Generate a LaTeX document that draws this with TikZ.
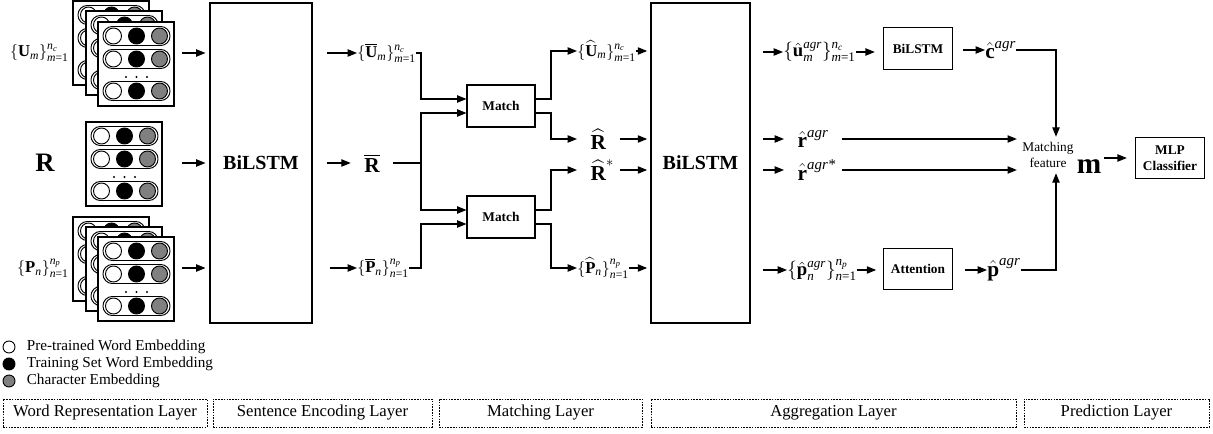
\documentclass[tikz,border=0pt]{standalone}
\usepackage{amsmath,amssymb}
\usepackage{fontspec}
\setmainfont{Liberation Serif}
\usetikzlibrary{arrows.meta,positioning}

\tikzset{
  arr/.style={-{Triangle[length=7pt,width=5.5pt]},line width=0.8pt},
  ln/.style={line width=0.8pt},
  bigbox/.style={draw,line width=0.8pt,font=\bfseries\fontsize{15}{18}\selectfont},
  blk/.style={draw,line width=0.8pt,align=center,font=\bfseries\fontsize{10}{12}\selectfont,minimum width=52pt,minimum height=31pt},
  setlab/.style={inner sep=0pt,font=\fontsize{12.5}{15}\selectfont},
  agrlab/.style={inner sep=0pt,font=\fontsize{14}{16}\selectfont},
  veclab/.style={inner sep=0pt,font=\fontsize{16}{18}\selectfont},
  layerbox/.style={draw,line width=0.6pt,dash pattern=on 1.2pt off 0.9pt,minimum height=21pt,font=\fontsize{12.5}{14}\selectfont},
  legtext/.style={font=\fontsize{11.4}{13}\selectfont},
  dotlg/.style={circle,draw,line width=0.7pt,minimum size=9pt,inner sep=0pt}
}

% {X_i}^{n_c}_{i=1}
\newcommand{\embset}[4]{$\{#1_{\textit{#2}}\}^{\textit{#3}_{\textit{#4}}}_{\textit{#2}\text{=1}}$}
% one row of a word card
\newcommand{\wordrow}[1]{%
  \draw[line width=0.7pt,fill=white,rounded corners=7pt] (5,#1-9.5) rectangle (72,#1+9.5);
  \draw[line width=0.7pt,fill=white] (15.5,#1) circle[radius=6pt];
  \draw[line width=0.7pt,fill=black] (38.5,#1) circle[radius=6pt];
  \draw[line width=0.7pt,fill=gray] (61.5,#1) circle[radius=6pt];}
% a word card with its top left corner at (#1,#2)
\newcommand{\wordcard}[2]{%
  \begin{scope}[shift={(#1,#2)}]
    \filldraw[fill=white,line width=0.8pt] (0,0) rectangle (76,84);
    \wordrow{14}\wordrow{37}\wordrow{69}
    \fill (28,55) circle[radius=0.9pt] (38.5,55) circle[radius=0.9pt] (49,55) circle[radius=0.9pt];
  \end{scope}}

\begin{document}
\begin{tikzpicture}[x=0.75pt,y=-0.75pt]
\useasboundingbox (0,0) rectangle (1213,434);

% word representation
\wordcard{73}{1}\wordcard{86}{11}\wordcard{98}{22}
\wordcard{86}{122}
\wordcard{73}{217}\wordcard{86}{227}\wordcard{98}{237}
\node[setlab,anchor=east] (uin) at (69,53) {\embset{\textbf{U}}{m}{n}{c}};
\node[font=\bfseries\fontsize{20}{24}\selectfont] (rin) at (45,163) {R};
\node[setlab,anchor=east] (pin) at (69,268) {\embset{\textbf{P}}{n}{n}{p}};

% sentence encoding
\node[bigbox,minimum width=76.5pt,minimum height=240pt] (enc) at (261,163) {BiLSTM};
\coordinate (uo) at (182,53);
\coordinate (ro) at (182,163);
\coordinate (po) at (182,268);
\draw[arr,shorten >=3pt] (uo) -- (uo -| enc.west);
\draw[arr,shorten >=3pt] (ro) -- (ro -| enc.west);
\draw[arr,shorten >=3pt] (po) -- (po -| enc.west);

% matching
\node[setlab,anchor=west] (ubar) at (357,53) {\embset{\overline{\textbf{U}}}{m}{n}{c}};
\node[veclab,inner xsep=10pt] (rbar) at (372,163) {$\overline{\textbf{R}}$};
\node[setlab,anchor=west] (pbar) at (357,268) {\embset{\overline{\textbf{P}}}{n}{n}{p}};
\draw[arr,shorten <=10.5pt] (ubar.west -| enc.east) -- (ubar.west);
\draw[arr,shorten <=10.5pt] (rbar.west -| enc.east) -- (rbar.west);
\draw[arr,shorten <=13pt] (pbar.west -| enc.east) -- (pbar.west);

\node[blk,minimum width=51pt,minimum height=31.5pt] (m1) at (501,106) {Match};
\node[blk,minimum width=51pt,minimum height=31.5pt] (m2) at (501,217) {Match};
\coordinate (m1a) at ([yshift=5.25pt]m1.west);
\coordinate (m1b) at ([yshift=-5.25pt]m1.west);
\coordinate (m2a) at ([yshift=5.25pt]m2.west);
\coordinate (m2b) at ([yshift=-5.25pt]m2.west);
\coordinate (jx) at (421,0);
\coordinate (jo) at (551,0);
\draw[arr] (ubar.east) -| (jx |- m1a) -- (m1a);
\draw[ln] (rbar.east) -- (jx |- rbar.east);
\draw[arr] (jx |- rbar.east) |- (m1b);
\draw[arr] (jx |- rbar.east) |- (m2a);
\draw[arr] (pbar.east) -| (jx |- m2b) -- (m2b);

\node[setlab,anchor=west] (uhat) at (577,51) {\embset{\widehat{\textbf{U}}}{m}{n}{c}};
\node[veclab,anchor=west,inner xsep=10pt] (rhat) at (577,139) {$\widehat{\textbf{R}}$};
\node[veclab,anchor=west,inner xsep=10pt] (rhats) at (577,170) {$\widehat{\textbf{R}}^{*}$};
\node[setlab,anchor=west] (phat) at (577,268) {\embset{\widehat{\textbf{P}}}{n}{n}{p}};
\draw[arr] ([yshift=5.25pt]m1.east) -| (jo |- uhat.west) -- (uhat.west);
\draw[arr] ([yshift=-5.25pt]m1.east) -| (jo |- rhat.west) -- (rhat.west);
\draw[arr] ([yshift=5.25pt]m2.east) -| (jo |- rhats.west) -- (rhats.west);
\draw[arr] ([yshift=-5.25pt]m2.east) -| (jo |- phat.west) -- (phat.west);

% aggregation
\node[bigbox,minimum width=74.25pt,minimum height=240pt] (agg) at (700.5,163) {BiLSTM};
\draw[arr,shorten >=2.5pt] (uhat.east) -- (uhat.east -| agg.west);
\draw[arr,shorten >=2.5pt] (rhat.east) -- (rhat.east -| agg.west);
\draw[arr,shorten >=2.5pt] (rhats.west -| rhat.east) -- (rhats.west -| agg.west);
\draw[arr,shorten >=2.5pt] (phat.east) -- (phat.east -| agg.west);

\node[agrlab,anchor=west] (uagr) at (783,52) {\embset{\hat{\textbf{u}}^{\textit{agr}}}{m}{n}{c}};
\node[veclab,anchor=west,inner xsep=10pt] (ragr) at (784,139) {$\hat{\textbf{r}}^{\textit{agr}}$};
\node[veclab,anchor=west,inner xsep=10pt] (ragrs) at (784,170) {$\hat{\textbf{r}}^{\textit{agr*}}$};
\node[agrlab,anchor=west] (pagr) at (787,270) {\embset{\hat{\textbf{p}}^{\textit{agr}}}{n}{n}{p}};
\draw[arr,shorten <=9pt] (uagr.west -| agg.east) -- (uagr.west);
\draw[arr,shorten <=9pt] (ragr.west -| agg.east) -- (ragr.west);
\draw[arr,shorten <=9pt] (ragrs.west -| agg.east) -- (ragrs.west);
\draw[arr,shorten <=9pt] (pagr.west -| agg.east) -- (pagr.west);

\node[blk] (cenc) at (918,48.5) {BiLSTM};
\node[blk] (attn) at (918,269) {Attention};
\draw[arr,shorten >=6pt] (uagr.east) -- (uagr.east -| cenc.west);
\draw[arr,shorten >=5pt] (pagr.east) -- (pagr.east -| attn.west);
\node[veclab,anchor=west] (cagr) at (985,50) {$\hat{\textbf{c}}^{\textit{agr}}$};
\node[veclab,anchor=west] (pvec) at (987,270) {$\hat{\textbf{p}}^{\textit{agr}}$};
\draw[arr,shorten <=7.5pt] (cagr.west -| cenc.east) -- (cagr.west);
\draw[arr,shorten <=9pt] (pvec.west -| attn.east) -- (pvec.west);

% prediction
\node[align=center,inner sep=4pt,font=\fontsize{10}{12}\selectfont] (feat) at (1048,155) {Matching\\feature};
\node[inner sep=2pt,font=\bfseries\fontsize{22}{24}\selectfont] (mvec) at (1089,167) {m};
\node[blk] (mlp) at (1170,158) {MLP\\Classifier};
\draw[arr] (cagr.east) -| ([xshift=6pt]feat.north);
\draw[arr] (pvec.east) -| ([xshift=6pt]feat.south);
\draw[arr] (ragr.east) -- (ragr.east -| feat.west);
\draw[arr] (ragrs.west -| ragr.east) -- (ragrs.west -| feat.west);
\draw[arr,shorten >=6pt] (mvec.east |- mlp.west) -- (mlp.west);

% legend
\node[dotlg,fill=white] (lgw) at (9,347) {};
\node[dotlg,fill=black] (lgb) at (9,364) {};
\node[dotlg,fill=gray] (lgg) at (9,381) {};
\node[legtext,right=5pt of lgw] (lgwt) {Pre-trained Word Embedding};
\node[legtext,right=5pt of lgb] (lgbt) {Training Set Word Embedding};
\node[legtext,right=5pt of lgg] (lggt) {Character Embedding};

% layers
\node[layerbox,minimum width=153pt] (lwr) at (105,413) {Word Representation Layer};
\node[layerbox,minimum width=164.25pt] (lse) at (322.5,413) {Sentence Encoding Layer};
\node[layerbox,minimum width=152.25pt] (lml) at (540.5,413) {Matching Layer};
\node[layerbox,minimum width=273.75pt] (lag) at (833.5,413) {Aggregation Layer};
\node[layerbox,minimum width=138.75pt] (lpl) at (1116.5,413) {Prediction Layer};
\end{tikzpicture}
\end{document}
